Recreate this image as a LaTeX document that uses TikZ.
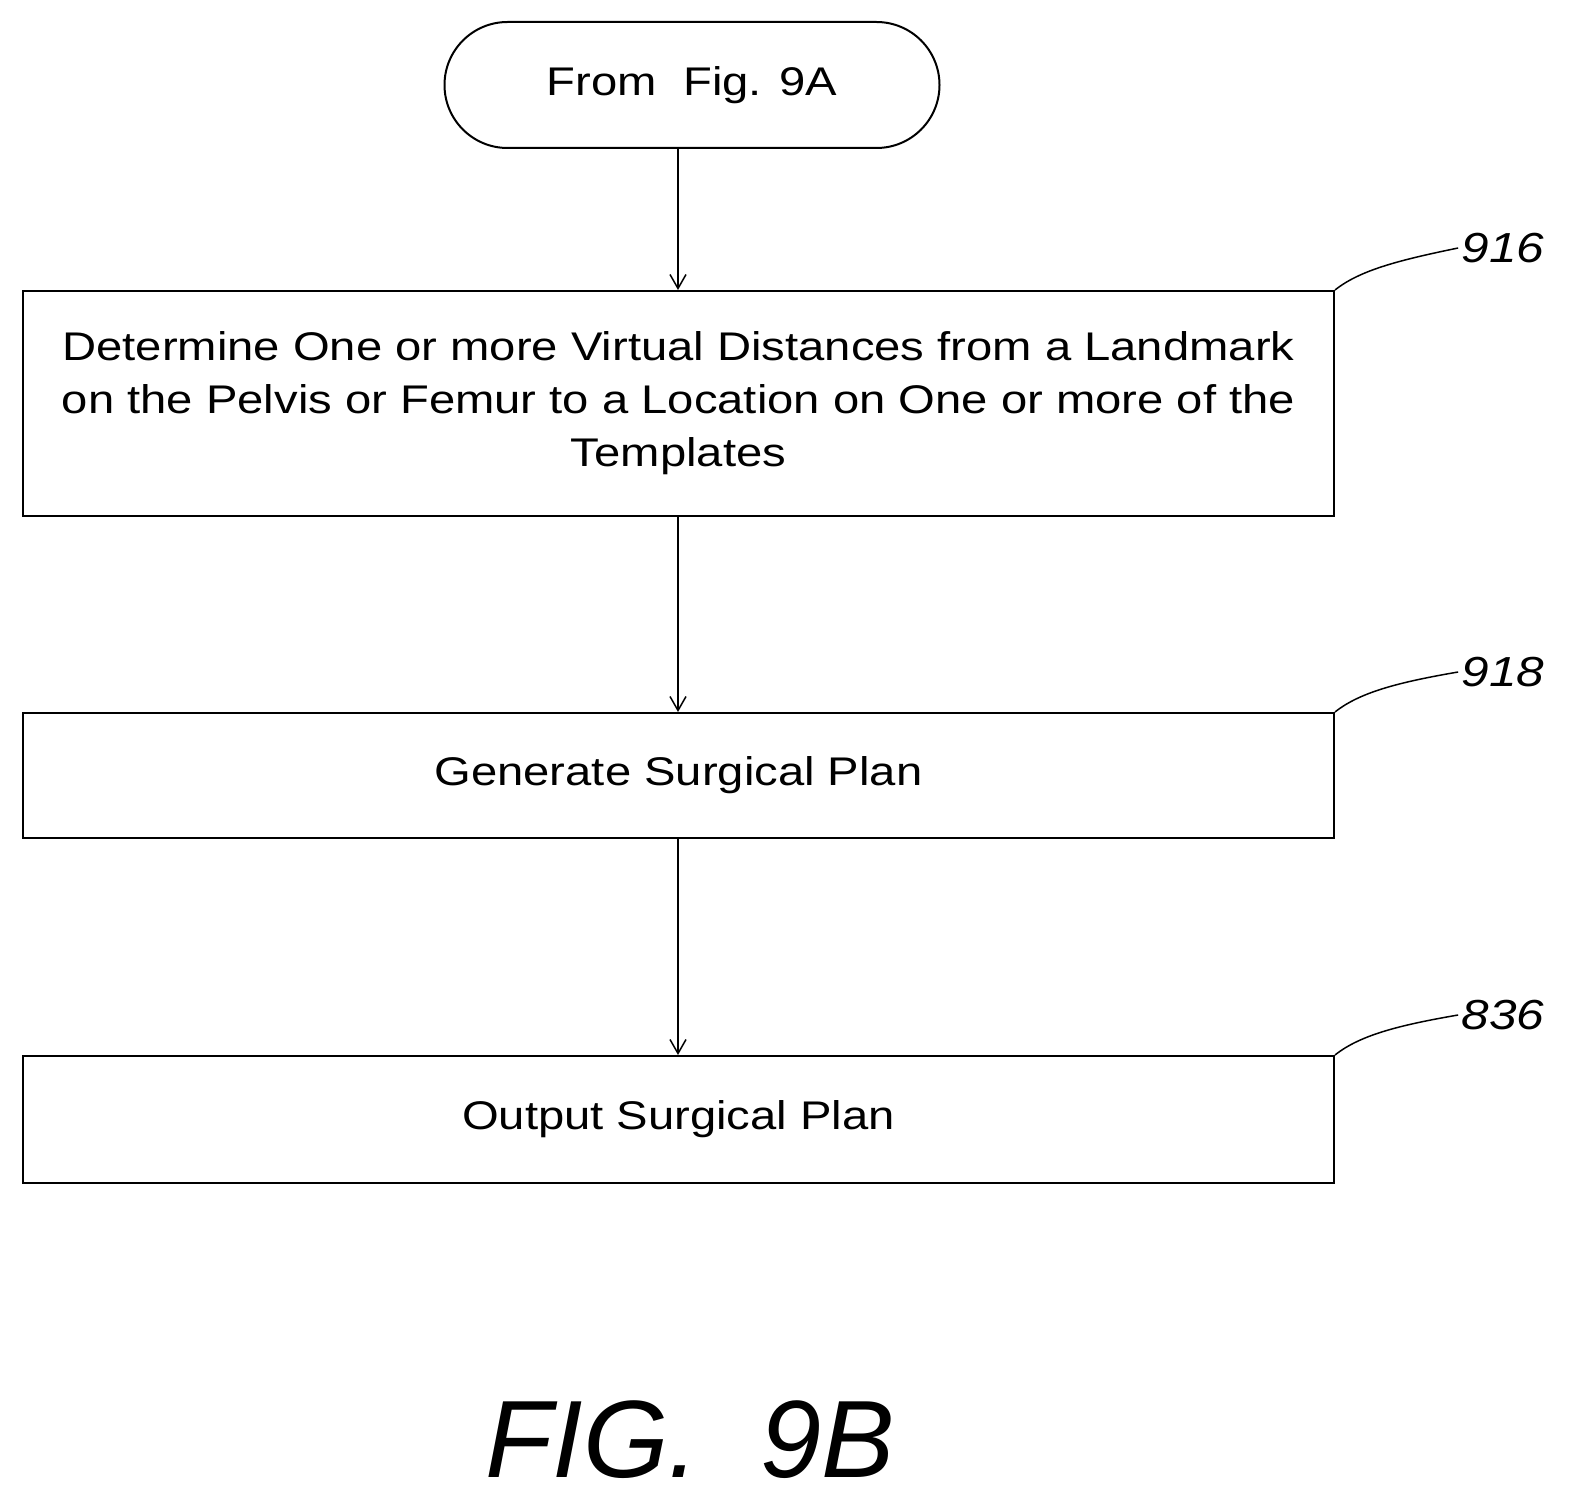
\documentclass[tikz,border=0pt]{standalone}
\usepackage{fontspec}
\setmainfont{Liberation Sans}
\newfontfamily\widesans{Liberation Sans}[FakeStretch=1.18]
\usetikzlibrary{arrows.meta}
\begin{document}
\begin{tikzpicture}[x=1pt,y=-1pt,
  box/.style={draw,line width=2pt,minimum width=1311pt,anchor=north west,inner sep=0pt,align=center,font=\widesans\fontsize{40}{53}\selectfont},
  arr/.style={line width=1.5pt,-{Straight Barb[length=14pt,width=16pt]}},
  lbl/.style={font=\widesans\fontsize{42}{44}\selectfont\itshape},
  lead/.style={line width=1.5pt}]
\useasboundingbox (0,0) rectangle (1580,1511);
\node[draw,line width=2pt,rounded corners=63pt,minimum width=495pt,minimum height=126pt,font=\widesans\fontsize{40}{44}\selectfont] (start) at (692,85) {From\ \ Fig. 9A};
\node[box,minimum height=225pt] (b916) at (22,290) {Determine One or more Virtual Distances from a Landmark\\on the Pelvis or Femur to a Location on One or more of the\\Templates};
\node[box,minimum height=125pt] (b918) at (22,712) {Generate Surgical Plan};
\node[box,minimum height=127pt] (b836) at (22,1055) {Output Surgical Plan};
\draw[arr] (start.south -| 678,0) -- (b916.north -| 678,0);
\draw[arr] (b916.south -| 678,0) -- (b918.north -| 678,0);
\draw[arr] (b918.south -| 678,0) -- (b836.north -| 678,0);
\node[lbl] (l916) at (1503,248) {916};
\node[lbl] (l918) at (1503,672) {918};
\node[lbl] (l836) at (1503,1015) {836};
\draw[lead] (b916.north east) .. controls (1360,270) and (1400,260) .. (l916.west);
\draw[lead] (b918.north east) .. controls (1360,692) and (1400,682) .. (l918.west);
\draw[lead] (b836.north east) .. controls (1360,1035) and (1400,1025) .. (l836.west);
\node[font=\fontsize{110}{110}\selectfont\itshape] (fig) at (690,1440) {FIG.\ \ 9B};
\end{tikzpicture}
\end{document}
